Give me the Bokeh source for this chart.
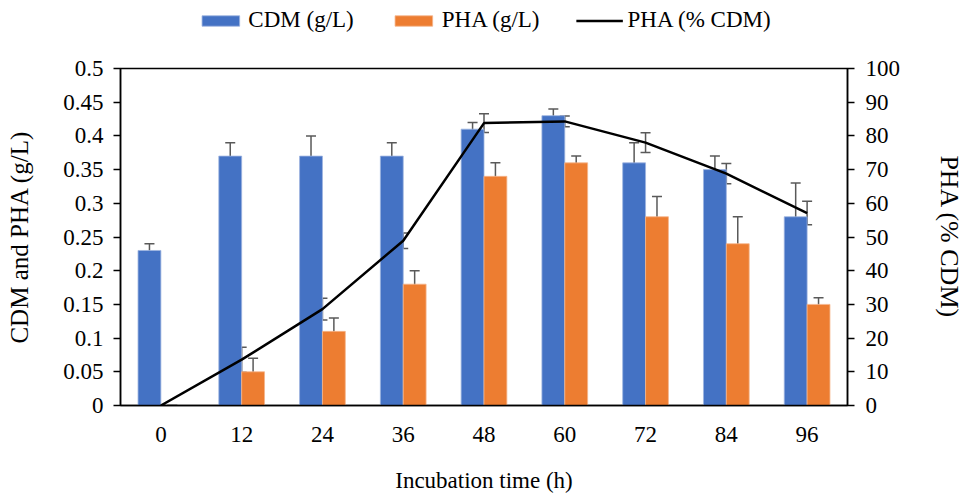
from bokeh.plotting import figure
from bokeh.models import (ColumnDataSource, Range1d, LinearAxis, FixedTicker, Whisker, TeeHead,
                          Legend, LegendItem, CustomJSTickFormatter)
from bokeh.layouts import column
from bokeh.transform import dodge
from bokeh.embed import file_html
from bokeh.resources import INLINE

# ---- data ----
times = ["0", "12", "24", "36", "48", "60", "72", "84", "96"]
cdm = [0.23, 0.37, 0.37, 0.37, 0.41, 0.43, 0.36, 0.35, 0.28]
cdm_err = [0.01, 0.02, 0.03, 0.02, 0.01, 0.01, 0.03, 0.02, 0.05]
pha = [0.0, 0.05, 0.11, 0.18, 0.34, 0.36, 0.28, 0.24, 0.15]
pha_err = [0.0, 0.02, 0.02, 0.02, 0.02, 0.01, 0.03, 0.04, 0.01]
pha_pct = [0.0, 13.6, 28.6, 48.9, 83.8, 84.3, 78.0, 68.8, 57.1]
pha_pct_err = [0.0, 3.7, 3.2, 2.3, 2.8, 1.6, 2.9, 3.0, 3.5]
left_ticks = [0, 0.05, 0.1, 0.15, 0.2, 0.25, 0.3, 0.35, 0.4, 0.45, 0.5]
right_ticks = [0, 10, 20, 30, 40, 50, 60, 70, 80, 90, 100]
series_names = ["CDM (g/L)", "PHA (g/L)", "PHA (% CDM)"]

src = ColumnDataSource(dict(
    t=times, cdm=cdm, pha=pha, pct=pha_pct,
    cdm_lo=[v - e for v, e in zip(cdm, cdm_err)], cdm_hi=[v + e for v, e in zip(cdm, cdm_err)],
    pha_lo=[v - e for v, e in zip(pha, pha_err)], pha_hi=[v + e for v, e in zip(pha, pha_err)],
    pct_lo=[v - e for v, e in zip(pha_pct, pha_pct_err)], pct_hi=[v + e for v, e in zip(pha_pct, pha_pct_err)],
))

FONT = "Liberation Serif"
BLUE = "#4472C4"
ORANGE = "#ED7D31"
GREY = "#595959"
W = 967
LEG_H = 40

p = figure(x_range=times, y_range=Range1d(0, 0.5), width=W, height=496 - LEG_H,
           output_backend="svg", toolbar_location=None, title=None,
           min_border_left=120, min_border_right=115, min_border_top=28, min_border_bottom=91)
p.extra_y_ranges = {"pct": Range1d(0, 100)}

bw = 0.283
p.vbar(x=dodge("t", -bw / 2, range=p.x_range), top="cdm", width=bw, source=src,
       fill_color=BLUE, line_color="#9DB4E0", line_width=0.8)
p.vbar(x=dodge("t", bw / 2, range=p.x_range), top="pha", width=bw, source=src,
       fill_color=ORANGE, line_color="#F5B58C", line_width=0.8)
p.line(x="t", y="pct", source=src, y_range_name="pct", line_color="black", line_width=2.5)

def whisk(base, lo, hi, yr="default"):
    w = Whisker(base=base, lower=lo, upper=hi, source=src, y_range_name=yr,
                line_color=GREY, line_width=1.5,
                upper_head=TeeHead(size=10, line_color=GREY, line_width=1.5),
                lower_head=TeeHead(size=10, line_color=GREY, line_width=1.5))
    p.add_layout(w)

whisk(dodge("t", -bw / 2, range=p.x_range), "cdm_lo", "cdm_hi")
whisk(dodge("t", bw / 2, range=p.x_range), "pha_lo", "pha_hi")
whisk("t", "pct_lo", "pct_hi", "pct")

p.xgrid.visible = False
p.ygrid.visible = False
p.outline_line_color = "black"
p.outline_line_width = 1.5

fmt = CustomJSTickFormatter(code="return tick.toFixed(2).replace(/0+$/,'').replace(/\\.$/,'');")
yl = p.yaxis[0]
yl.ticker = FixedTicker(ticks=left_ticks)
yl.formatter = fmt
yl.axis_label = "CDM and PHA (g/L)"

yr = LinearAxis(y_range_name="pct", ticker=FixedTicker(ticks=right_ticks), axis_label="PHA (% CDM)")
p.add_layout(yr, "right")

for ax in (yl, yr):
    ax.major_tick_out = 7
    ax.major_tick_in = 0
    ax.minor_tick_out = 0
    ax.minor_tick_in = 0
    ax.major_tick_line_width = 1.5
    ax.axis_line_width = 1.5
    ax.axis_line_color = "black"
    ax.major_tick_line_color = "black"
yl.major_label_standoff = 10
yl.axis_label_standoff = 27
yr.major_label_standoff = 11
yr.axis_label_standoff = 32

xa = p.xaxis[0]
xa.axis_label = "Incubation time (h)"
xa.major_tick_out = 0
xa.major_tick_in = 0
xa.axis_line_color = "black"
xa.axis_line_width = 1.5
xa.major_label_standoff = 21
xa.axis_label_standoff = 23

for ax in (yl, yr, xa):
    ax.major_label_text_font = FONT
    ax.major_label_text_font_size = "23px"
    ax.major_label_text_color = "black"
    ax.axis_label_text_font = FONT
    ax.axis_label_text_font_style = "normal"
    ax.axis_label_text_color = "black"
xa.axis_label_text_font_size = "23px"
yl.axis_label_text_font_size = "25px"
yr.axis_label_text_font_size = "26px"

# ---- legend strip (separate figure above the plot) ----
lf = figure(width=W, height=LEG_H, output_backend="svg", toolbar_location=None, title=None,
            x_axis_type=None, y_axis_type=None, x_range=(0, 1), y_range=(0, 1),
            min_border_left=120, min_border_right=115, min_border_top=0, min_border_bottom=0)
lf.outline_line_color = None
lf.xgrid.visible = False
lf.ygrid.visible = False
# placeholder renderers (outside the visible range) that only provide legend swatches
l1 = lf.vbar(x=[-5], top=[-5], width=0.1, fill_color=BLUE, line_color="#9DB4E0", line_width=0.8)
l2 = lf.vbar(x=[-5], top=[-5], width=0.1, fill_color=ORANGE, line_color="#F5B58C", line_width=0.8)
l3 = lf.line(x=[-5, -4], y=[-5, -5], line_color="black", line_width=2.5)

legend = Legend(items=[LegendItem(label=n, renderers=[r]) for n, r in zip(series_names, [l1, l2, l3])],
                orientation="horizontal", location="center", padding=0, margin=0, spacing=36,
                glyph_width=47, glyph_height=13, label_standoff=5,
                label_text_font=FONT, label_text_font_size="23px", label_text_color="black",
                border_line_color=None, background_fill_alpha=0)
lf.add_layout(legend, "center")

layout = column(lf, p, spacing=0)
open("out.html", "w").write(file_html(layout, INLINE))
